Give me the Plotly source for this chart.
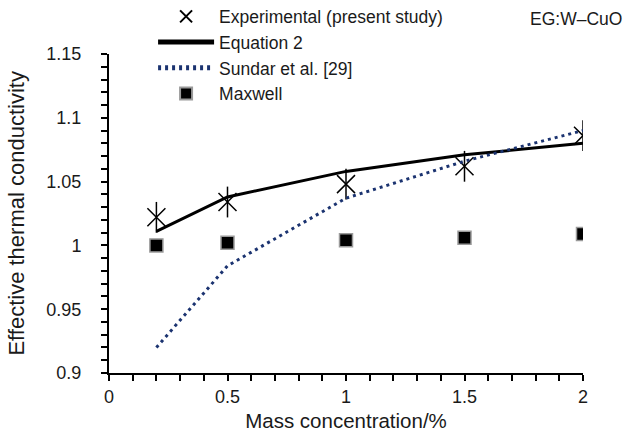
import plotly.graph_objects as go

x = [0.2, 0.5, 1.0, 1.5, 2.0]
experimental = [1.022, 1.034, 1.048, 1.062, 1.086]
equation2 = [1.011, 1.038, 1.058, 1.071, 1.080]
sundar = [0.920, 0.984, 1.037, 1.066, 1.090]
maxwell = [1.000, 1.002, 1.004, 1.006, 1.009]

FONT = "Liberation Sans, Arial, sans-serif"
TXT = "#1a1a1a"

fig = go.Figure()
fig.add_trace(go.Scatter(x=x, y=experimental, mode="markers", name="Experimental (present study)",
                         legendgroup="a",
                         marker=dict(symbol="x-thin-open", size=18, color="black",
                                     line=dict(color="black", width=1.5))))
fig.add_trace(go.Scatter(x=x, y=experimental, mode="markers", showlegend=False, legendgroup="a",
                         marker=dict(symbol="line-ns-open", size=22, color="black",
                                     line=dict(color="black", width=1.5))))
fig.add_trace(go.Scatter(x=x, y=equation2, mode="lines", name="Equation 2", legendgroup="b",
                         line=dict(color="black", width=3)))
fig.add_trace(go.Scatter(x=x, y=sundar, mode="lines", name="Sundar et al. [29]", legendgroup="c",
                         line=dict(color="#1b3370", width=3, dash="3px,4px")))
fig.add_trace(go.Scatter(x=x, y=maxwell, mode="markers", name="Maxwell", legendgroup="d",
                         marker=dict(symbol="square", size=13, color="black",
                                     line=dict(color="#9a9a9a", width=1.5))))

axis_common = dict(showgrid=False, zeroline=False, showline=True, linecolor="#000000", linewidth=2,
                   ticks="outside", ticklen=6, tickwidth=2, tickcolor="#000000",
                   tickfont=dict(family=FONT, size=18, color=TXT))

fig.update_xaxes(range=[0, 2], tickmode="linear", tick0=0, dtick=0.5,
                 minor=dict(dtick=0.1, tick0=0, ticks="outside", ticklen=6, tickwidth=2,
                            tickcolor="#000000", showgrid=False),
                 title=dict(text="Mass concentration/%", font=dict(family=FONT, size=20.5, color=TXT),
                            standoff=8),
                 **axis_common)
fig.update_yaxes(range=[0.9, 1.15], tickmode="linear", tick0=0.9, dtick=0.05,
                 minor=dict(dtick=0.01, tick0=0.9, ticks="outside", ticklen=6, tickwidth=2,
                            tickcolor="#000000", showgrid=False),
                 ticklabelstandoff=16,
                 **axis_common)

fig.add_annotation(text="Effective thermal conductivity", xref="paper", yref="paper",
                   x=-0.196, y=0.5, xanchor="center", yanchor="middle", textangle=-90,
                   showarrow=False, font=dict(family=FONT, size=22, color=TXT))

fig.add_annotation(text="EG:W\u2013CuO", xref="paper", yref="paper", x=1.087, y=1.11,
                   xanchor="right", yanchor="middle", showarrow=False,
                   font=dict(family=FONT, size=17.5, color=TXT))

fig.update_layout(
    template="simple_white",
    width=627, height=440,
    margin=dict(l=109, r=44, t=54, b=67, autoexpand=False),
    paper_bgcolor="white", plot_bgcolor="white",
    font=dict(family=FONT, size=18, color=TXT),
    legend=dict(x=0.093, y=1.174, xanchor="left", yanchor="top", bgcolor="rgba(0,0,0,0)",
                tracegroupgap=0, font=dict(family=FONT, size=17.5, color=TXT), itemwidth=56,
                itemsizing="constant"),
)

fig.write_html("out.html")
